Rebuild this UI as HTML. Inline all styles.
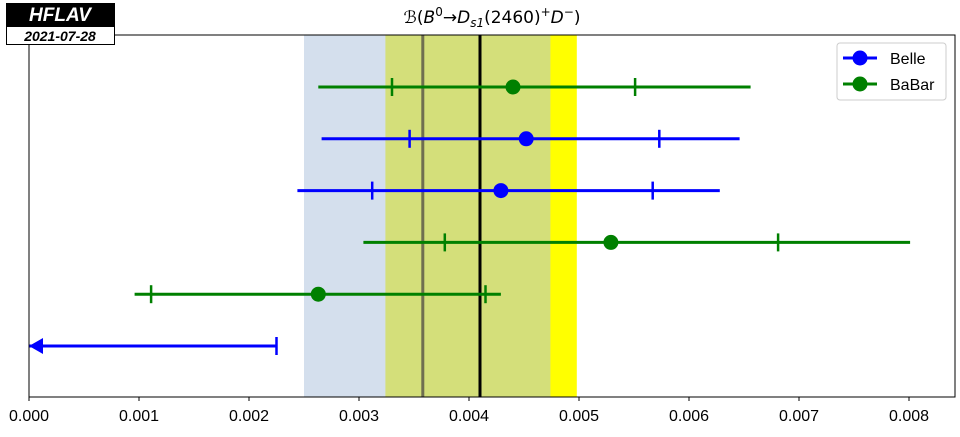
<!DOCTYPE html>
<html><head><meta charset="utf-8"><style>
body{margin:0;background:#fff;width:960px;height:432px;overflow:hidden;font-family:"Liberation Sans","DejaVu Sans",sans-serif}
</style></head><body>
<svg id="chart" width="960" height="432" xmlns="http://www.w3.org/2000/svg"></svg>
<script>
const xTicks=[0,0.001,0.002,0.003,0.004,0.005,0.006,0.007,0.008];
const tickLabels=["0.000","0.001","0.002","0.003","0.004","0.005","0.006","0.007","0.008"];
const experiments=["BaBar","Belle","Belle","BaBar","BaBar","Belle"];
const centralValues=[0.00440,0.00452,0.00429,0.00529,0.00263,null];
const statLow=[0.00330,0.00346,0.00312,0.00378,0.00111,null];
const statHigh=[0.00551,0.00573,0.00567,0.00681,0.00415,null];
const totLow=[0.00263,0.00266,0.00244,0.00304,0.00096,0];
const totHigh=[0.00656,0.00646,0.00628,0.00801,0.00429,0.00225];
const upperLimitFlags=[false,false,false,false,false,true];
const avgBand=[0.00324,0.00498];
const prevBand=[0.00250,0.00474];
const avgLine=0.00410;
const prevLine=0.00358;

const svg=document.getElementById('chart');
const NS="http://www.w3.org/2000/svg";
const L=29,R=955,T=35,B=397,xmin=0,xmax=(955-29)/110000;
const xs=v=>L+(v-xmin)/(xmax-xmin)*(R-L);
const ys=i=>87+i*51.8;
function el(tag,attrs,parent){const e=document.createElementNS(NS,tag);for(const k in attrs)e.setAttribute(k,attrs[k]);(parent||svg).appendChild(e);return e;}

let e;
e=el('rect',{x:xs(avgBand[0]),y:T,width:xs(avgBand[1])-xs(avgBand[0]),height:B-T,fill:'#ffff00'});


e=el('rect',{x:xs(prevBand[0]),y:T,width:xs(prevBand[1])-xs(prevBand[0]),height:B-T,fill:'rgb(176,196,222)','fill-opacity':0.55});


e=el('line',{x1:xs(prevLine),x2:xs(prevLine),y1:T,y2:B,stroke:'#6f6f50','stroke-width':3});


e=el('line',{x1:xs(avgLine),x2:xs(avgLine),y1:T,y2:B,stroke:'#000','stroke-width':3});



experiments.forEach((ex,i)=>{
  const c=ex==='Belle'?'#0000ff':'#008000';const y=ys(i);
  const g=el('g',{});
  
  
  el('line',{x1:xs(totLow[i]),x2:xs(totHigh[i]),y1:y,y2:y,stroke:c,'stroke-width':3},g);
  if(upperLimitFlags[i]){
    el('line',{x1:xs(totHigh[i]),x2:xs(totHigh[i]),y1:y-9,y2:y+9,stroke:c,'stroke-width':2.5},g);
    el('polygon',{points:`${xs(0)},${y} ${xs(0)+14},${y-8} ${xs(0)+14},${y+8}`,fill:c},g);
  } else {
    [statLow[i],statHigh[i]].forEach(v=>el('line',{x1:xs(v),x2:xs(v),y1:y-9,y2:y+9,stroke:c,'stroke-width':2.5},g));
    el('circle',{cx:xs(centralValues[i]),cy:y,r:7.5,fill:c},g);
  }
});

e=el('rect',{x:L,y:T,width:R-L,height:B-T,fill:'none',stroke:'#000','stroke-width':1});


xTicks.forEach((v,i)=>{
  el('line',{x1:xs(v),x2:xs(v),y1:B,y2:B+4,stroke:'#000'});
  const t=el('text',{x:xs(v),y:B+24,'text-anchor':'middle','font-size':16,fill:'#000'});
  t.textContent=tickLabels[i];
  
  
});

const title=el('text',{x:492,y:23,'text-anchor':'middle','font-size':17,fill:'#000','font-family':'DejaVu Sans, Liberation Sans, sans-serif'});
title.innerHTML='<tspan font-style="italic">ℬ</tspan>(<tspan font-style="italic">B</tspan><tspan dy="-7" font-size="12">0</tspan><tspan dy="7">→</tspan><tspan font-style="italic">D</tspan><tspan dy="4" font-size="12" font-style="italic">s1</tspan><tspan dy="-4">(2460)</tspan><tspan dy="-7" font-size="12">+</tspan><tspan dy="7" font-style="italic">D</tspan><tspan dy="-7" font-size="12">−</tspan><tspan dy="7">)</tspan>';



const lg=el('g',{});


el('rect',{x:837,y:43,width:109,height:57,rx:3,fill:'#fff',stroke:'#ccc'},lg);
[['Belle','#0000ff',58],['BaBar','#008000',84]].forEach(([n,c,y])=>{
  const g=el('g',{},lg);
  
  
  el('line',{x1:843,x2:877,y1:y,y2:y,stroke:c,'stroke-width':3},g);
  el('circle',{cx:860,cy:y,r:7.5,fill:c},g);
  const t=el('text',{x:890,y:y+6,'font-size':16,fill:'#000'},g);t.textContent=n;
});

const logo=el('g',{});


el('rect',{x:6,y:3,width:109,height:23,fill:'#000'},logo);
let t=el('text',{x:60,y:21,'text-anchor':'middle','font-size':19,'font-weight':'bold','font-style':'italic',fill:'#fff'},logo);t.textContent='HFLAV';
el('rect',{x:6.5,y:26.5,width:108,height:18,fill:'#fff',stroke:'#000'},logo);
t=el('text',{x:60,y:41,'text-anchor':'middle','font-size':14,'font-weight':'bold','font-style':'italic',fill:'#000'},logo);t.textContent='2021-07-28';
</script>
</body></html>
